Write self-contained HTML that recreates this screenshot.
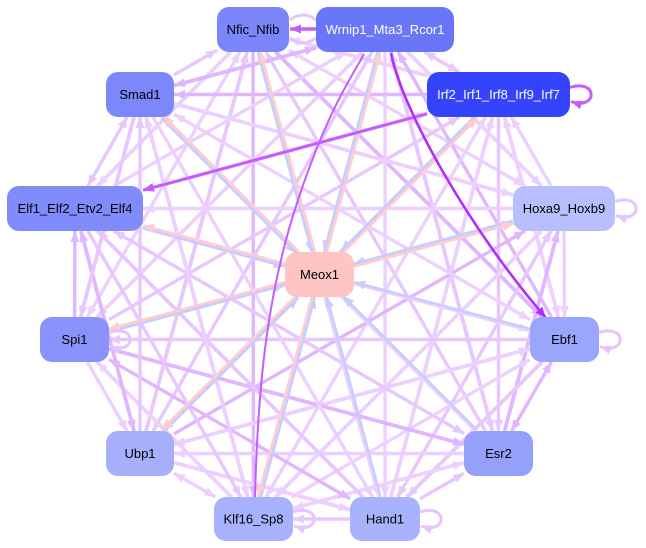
<!DOCTYPE html>
<html><head><meta charset="utf-8">
<style>
html,body{margin:0;padding:0;background:#fff;}
svg{display:block;}
text{font-family:"Liberation Sans",Arial,sans-serif;font-size:13px;}
</style></head>
<body>
<svg id="g" width="646" height="548" viewBox="0 0 646 548" xmlns="http://www.w3.org/2000/svg">
<defs id="defs"></defs>
<g id="edges"></g>
<g id="nodes">
<rect x="217" y="7" width="72" height="45" rx="12" fill="#7a86f9"/>
<text x="253" y="34" text-anchor="middle" fill="#000">Nfic_Nfib</text>
<rect x="316" y="7" width="138" height="45" rx="12" fill="#6a76f8"/>
<text x="385" y="34" text-anchor="middle" fill="#fff">Wrnip1_Mta3_Rcor1</text>
<rect x="427" y="72" width="143" height="45" rx="12" fill="#3444fb"/>
<text x="498.5" y="99" text-anchor="middle" fill="#fff">Irf2_Irf1_Irf8_Irf9_Irf7</text>
<rect x="106" y="72" width="68" height="45" rx="12" fill="#7b87fa"/>
<text x="140" y="99" text-anchor="middle" fill="#000">Smad1</text>
<rect x="7" y="186" width="136" height="45" rx="12" fill="#808cfb"/>
<text x="75" y="213" text-anchor="middle" fill="#000">Elf1_Elf2_Etv2_Elf4</text>
<rect x="513" y="186" width="102" height="45" rx="12" fill="#b9befe"/>
<text x="564" y="213" text-anchor="middle" fill="#000">Hoxa9_Hoxb9</text>
<rect x="285" y="252" width="69" height="45" rx="12" fill="#ffc4c4"/>
<text x="319.5" y="279" text-anchor="middle" fill="#000">Meox1</text>
<rect x="40" y="317" width="69" height="45" rx="12" fill="#8894fb"/>
<text x="74.5" y="344" text-anchor="middle" fill="#000">Spi1</text>
<rect x="530" y="317" width="69" height="45" rx="12" fill="#9aa5fc"/>
<text x="564.5" y="344" text-anchor="middle" fill="#000">Ebf1</text>
<rect x="106" y="431" width="68" height="45" rx="12" fill="#a5affc"/>
<text x="140" y="458" text-anchor="middle" fill="#000">Ubp1</text>
<rect x="464" y="431" width="69" height="45" rx="12" fill="#95a0fb"/>
<text x="498.5" y="458" text-anchor="middle" fill="#000">Esr2</text>
<rect x="214" y="497" width="79" height="44" rx="12" fill="#a7b1fd"/>
<text x="253.5" y="523.5" text-anchor="middle" fill="#000">Klf16_Sp8</text>
<rect x="350" y="497" width="70" height="44" rx="12" fill="#a8b2fd"/>
<text x="385" y="523.5" text-anchor="middle" fill="#000">Hand1</text>
</g>
</svg>
<script>
(function(){
var NS="http://www.w3.org/2000/svg";
var defs=document.getElementById("defs"), E=document.getElementById("edges");
var N={nfic:[217,7,289,52],wrn:[316,7,454,52],irf:[427,72,570,117],smad:[106,72,174,117],
elf:[7,186,143,231],hox:[513,186,615,231],meox:[285,252,354,297],spi:[40,317,109,362],
ebf:[530,317,599,362],ubp:[106,431,174,476],esr:[464,431,533,476],klf:[214,497,293,541],hand:[350,497,420,541]};
var mk={};
function marker(col){
  if(mk[col])return mk[col];
  var id="m"+Object.keys(mk).length;
  var m=document.createElementNS(NS,"marker");
  m.setAttribute("id",id);m.setAttribute("markerUnits","userSpaceOnUse");
  m.setAttribute("markerWidth","12");m.setAttribute("markerHeight","9");
  m.setAttribute("refX","11");m.setAttribute("refY","4.5");
  m.setAttribute("orient","auto-start-reverse");
  var p=document.createElementNS(NS,"path");
  p.setAttribute("d","M0,0 L11,4.5 L0,9 z");p.setAttribute("fill",col);
  m.appendChild(p);defs.appendChild(m);mk[col]=id;return id;
}
function cen(b){return [(b[0]+b[2])/2,(b[1]+b[3])/2];}
function clip(b,fx,fy){
  var c=cen(b),hw=(b[2]-b[0])/2,hh=(b[3]-b[1])/2,dx=fx-c[0],dy=fy-c[1];
  var t=Math.min(dx?hw/Math.abs(dx):1e9,dy?hh/Math.abs(dy):1e9);
  return [c[0]+dx*t,c[1]+dy*t];
}
function line(a,b,col,w,start,end,off){
  var A=N[a],B=N[b],ca=cen(A),cb=cen(B);
  var p=clip(A,cb[0],cb[1]),q=clip(B,ca[0],ca[1]);
  var dx=cb[0]-ca[0],dy=cb[1]-ca[1],L=Math.sqrt(dx*dx+dy*dy);
  var ox=-dy/L*(off||0),oy=dx/L*(off||0);
  var l=document.createElementNS(NS,"line");
  l.setAttribute("x1",p[0]+ox);l.setAttribute("y1",p[1]+oy);
  l.setAttribute("x2",q[0]+ox);l.setAttribute("y2",q[1]+oy);
  l.setAttribute("stroke",col);l.setAttribute("stroke-width",w);
  if(start)l.setAttribute("marker-start","url(#"+marker(col)+")");
  if(end)l.setAttribute("marker-end","url(#"+marker(col)+")");
  E.appendChild(l);
}
function path(d,col,w,end,fill){
  var p=document.createElementNS(NS,"path");
  p.setAttribute("d",d);p.setAttribute("stroke",col);p.setAttribute("stroke-width",w);
  p.setAttribute("fill",fill||"none");
  if(end)p.setAttribute("marker-end","url(#"+marker(col)+")");
  E.appendChild(p);
}
var O=["nfic","wrn","irf","hox","ebf","esr","hand","klf","ubp","spi","elf","smad"];
for(var i=0;i<12;i++)for(var j=i+1;j<12;j++){
  if(i==0&&j==1)continue;
  var h=(i*31+j*17)%10;
  var col=h<5?"#edd0ff":h<8?"#e8c6ff":"#e0b6ff";
  var w=(h%2)?3.4:3.8;
  var d=(i+j)%3;
  line(O[i],O[j],col,w,d!=1,d!=2,0);
}
// Meox1 edges
var pinkTo={nfic:1,wrn:1,irf:1,hox:1,elf:1,spi:1,ubp:1,klf:1,smad:1};
O.forEach(function(k){
  line(k,"meox","#c8cdff",2.6,false,true,1.4);
  if(pinkTo[k])line("meox",k,"#ffcdcd",2.6,false,true,1.4);
});
// strong purple edges
line("irf","elf","#c65cff",3,false,true,0);
path("M391,53 C402,110 470,230 546,318","#b02cff",2.6,true);
path("M255,497 C258,380 268,290 298,200 S350,80 364,54","#c25eff",2,false);
// Nfic <-> Wrnip1
path("M290,20 Q303,10 316,20","#e7c4ff",3,false);
path("M290,38 Q303,48 316,38","#e7c4ff",3,false);
path("M316,29 L290,29","#c95cff",3.5,true);
// self loops
function loop(b,col){var x=b[2],cy=(b[1]+b[3])/2;
  path("M"+x+","+(cy-7)+" C"+(x+28)+","+(cy-16)+" "+(x+28)+","+(cy+16)+" "+(x+1)+","+(cy+7),col,3,true);}
loop(N.irf,"#c65cff");loop(N.hox,"#e7c4ff");loop(N.ebf,"#e7c4ff");
loop(N.spi,"#e7c4ff");loop(N.klf,"#e7c4ff");loop(N.hand,"#e7c4ff");
})();
</script>
</body></html>
